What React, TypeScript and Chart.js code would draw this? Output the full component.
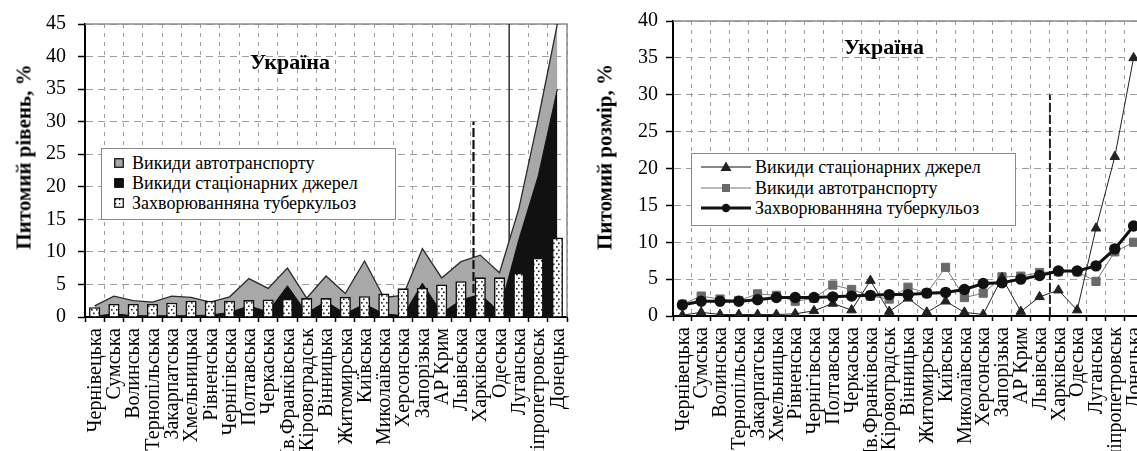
import React, { useEffect, useRef } from 'react';
import { Chart, registerables } from 'chart.js';

Chart.register(...registerables);

const SERIF = '"Liberation Serif", "Times New Roman", serif';

// ---- data ----
const regions = [
  'Чернівецька', 'Сумська', 'Волинська', 'Тернопільська', 'Закарпатська',
  'Хмельницька', 'Рівненська', 'Чернігівська', 'Полтавська', 'Черкаська',
  'Ів.Франківська', 'Кіровоградськ', 'Вінницька', 'Житомирська', 'Київська',
  'Миколаївська', 'Херсонська', 'Запорізька', 'АР Крим', 'Львівська',
  'Харківська', 'Одеська', 'Луганська', 'Дніпропетровськ', 'Донецька',
];
const stationary = [0.1, 0.5, 0.2, 0.2, 0.2, 0.2, 0.3, 0.7, 1.7, 0.8, 4.8, 0.6, 2.4, 0.5, 2.0, 0.5, 0.2, 5.2, 0.6, 2.6, 3.5, 0.8, 11.9, 21.6, 35.0];
const transport = [1.6, 2.7, 2.3, 2.1, 3.0, 2.8, 2.0, 2.4, 4.2, 3.6, 2.7, 2.3, 3.9, 3.1, 6.6, 2.5, 3.1, 5.3, 5.4, 5.9, 6.0, 6.0, 4.7, 8.7, 10.0];
const tuberculosis = [1.5, 2.0, 2.0, 2.0, 2.2, 2.5, 2.5, 2.5, 2.6, 2.7, 2.8, 2.9, 2.9, 3.1, 3.2, 3.6, 4.4, 4.5, 5.0, 5.5, 6.1, 6.1, 6.8, 9.1, 12.2];

const leftMax = 45;
const rightMax = 40;
const tickStep = 5;
const leftDividerIndex = 21.5;
const leftMarkerIndex = 19.65;
const rightMarkerIndex = 19.55;
const markerTop = 30;

const seriesNames = {
  transport: 'Викиди автотранспорту',
  stationary: 'Викиди стаціонарних джерел',
  tb: 'Захворюванняна туберкульоз',
};

function makeDotPattern(): CanvasPattern | string {
  const c = document.createElement('canvas');
  c.width = 5;
  c.height = 7;
  const g = c.getContext('2d');
  if (!g) return '#fff';
  g.fillStyle = '#fff';
  g.fillRect(0, 0, 5, 7);
  g.fillStyle = '#222';
  g.fillRect(1, 1, 1.6, 1.6);
  g.fillRect(3, 4.5, 1.6, 1.6);
  return g.createPattern(c, 'repeat') || '#fff';
}

const frameAndMarkers = {
  id: 'frameAndMarkers',
  beforeDatasetsDraw(chart: any, _a: any, opts: any) {
    const { ctx, chartArea: a, scales } = chart;
    const x = scales.x;
    const y = scales.y;
    const step = x.getPixelForValue(1) - x.getPixelForValue(0);
    const px = (v: number) => x.getPixelForValue(0) + v * step;
    ctx.save();
    ctx.strokeStyle = '#8c8c8c';
    ctx.lineWidth = 1.5;
    ctx.beginPath();
    ctx.moveTo(a.left, a.top);
    ctx.lineTo(a.right, a.top);
    ctx.lineTo(a.right, a.bottom);
    ctx.stroke();
    if (opts.solidAt != null) {
      ctx.strokeStyle = '#333';
      ctx.lineWidth = 1.5;
      ctx.beginPath();
      ctx.moveTo(px(opts.solidAt), y.getPixelForValue(0));
      ctx.lineTo(px(opts.solidAt), y.getPixelForValue(opts.solidTop));
      ctx.stroke();
    }
    if (opts.dashedAt != null && !opts.dashedOnTop) {
      ctx.strokeStyle = '#222';
      ctx.lineWidth = 2;
      ctx.setLineDash([9, 3]);
      ctx.beginPath();
      ctx.moveTo(px(opts.dashedAt), y.getPixelForValue(0));
      ctx.lineTo(px(opts.dashedAt), y.getPixelForValue(opts.dashedTop));
      ctx.stroke();
    }
    ctx.restore();
  },
  afterDatasetsDraw(chart: any, _a: any, opts: any) {
    const { ctx, scales } = chart;
    const x = scales.x;
    const y = scales.y;
    if (opts.dashedAt != null && opts.dashedOnTop) {
      const step = x.getPixelForValue(1) - x.getPixelForValue(0);
      const xx = x.getPixelForValue(0) + opts.dashedAt * step;
      ctx.save();
      ctx.strokeStyle = '#111';
      ctx.lineWidth = 2.2;
      ctx.setLineDash([9, 3]);
      ctx.beginPath();
      ctx.moveTo(xx, y.getPixelForValue(0));
      ctx.lineTo(xx, y.getPixelForValue(opts.dashedTop));
      ctx.stroke();
      ctx.restore();
    }
  },
  afterDraw(chart: any) {
    // category labels, rotated to read bottom-to-top, ending just under the axis
    const { ctx, scales } = chart;
    const x = scales.x;
    const labels: string[] = chart.data.labels;
    ctx.save();
    ctx.fillStyle = '#000';
    ctx.font = `20px ${SERIF}`;
    ctx.textAlign = 'right';
    ctx.textBaseline = 'middle';
    labels.forEach((lab, i) => {
      ctx.save();
      ctx.translate(x.getPixelForValue(i) + 1, x.top + 11);
      ctx.rotate(-Math.PI / 2);
      ctx.fillText(lab, 0, 0);
      ctx.restore();
    });
    ctx.restore();
  },
};

function xScale(height: number) {
  return {
    offset: true,
    grid: {
      offset: true,
      color: '#9e9e9e',
      lineWidth: 1,
      drawTicks: true,
      tickLength: 5,
      tickColor: '#000',
      tickWidth: 1.5,
      tickBorderDash: [],
    },
    border: { display: true, color: '#000', width: 2, dash: [4, 5] },
    ticks: { display: false, autoSkip: false },
    afterFit: (s: any) => {
      s.height = height;
    },
  };
}

function yScale(max: number, width: number, padding: number, stacked: boolean) {
  return {
    stacked,
    min: 0,
    max,
    ticks: { stepSize: tickStep, padding, color: '#000', font: { family: SERIF, size: 20 } },
    grid: {
      color: '#9e9e9e',
      lineWidth: 1,
      tickLength: 7,
      tickColor: '#000',
      tickWidth: 1.5,
      tickBorderDash: [],
    },
    border: { display: true, color: '#000', width: 2, dash: [7, 5] },
    afterFit: (s: any) => {
      s.width = width;
    },
  };
}

const box = (fill: string) => (
  <svg width={10} height={10} style={{ display: 'block' }}>
    <rect x={0.75} y={0.75} width={8.5} height={8.5} fill={fill} stroke="#000" strokeWidth={1.2} />
  </svg>
);

const dotBox = (
  <svg width={10} height={10} style={{ display: 'block' }}>
    <defs>
      <pattern id="lgdots" width={4} height={4} patternUnits="userSpaceOnUse">
        <rect width={4} height={4} fill="#fff" />
        <rect x={1} y={1} width={1.3} height={1.3} fill="#000" />
      </pattern>
    </defs>
    <rect x={0.75} y={0.75} width={8.5} height={8.5} fill="url(#lgdots)" stroke="#000" strokeWidth={1.2} />
  </svg>
);

function lineSample(kind: 'tri' | 'sq' | 'circ') {
  const stroke = kind === 'sq' ? '#777' : '#111';
  const w = kind === 'circ' ? 3 : 1;
  return (
    <svg width={52} height={16} style={{ display: 'block' }}>
      <line x1={0} y1={8} x2={50} y2={8} stroke={stroke} strokeWidth={w} />
      {kind === 'tri' && <polygon points="25,2.5 30.5,12 19.5,12" fill="#222" />}
      {kind === 'sq' && <rect x={21} y={4} width={8} height={8} fill="#6a6a6a" />}
      {kind === 'circ' && <circle cx={25} cy={8} r={4.2} fill="#111" />}
    </svg>
  );
}

const textStyle: React.CSSProperties = {
  position: 'absolute',
  fontFamily: SERIF,
  fontSize: 18,
  lineHeight: '20px',
  whiteSpace: 'nowrap',
  color: '#000',
};

export default function App() {
  const leftRef = useRef<HTMLCanvasElement>(null);
  const rightRef = useRef<HTMLCanvasElement>(null);

  useEffect(() => {
    if (!leftRef.current || !rightRef.current) return;
    const pattern = makeDotPattern();

    const left = new Chart(leftRef.current, {
      type: 'bar',
      data: {
        labels: regions,
        datasets: [
          {
            type: 'line',
            label: seriesNames.stationary,
            data: stationary,
            borderColor: '#111',
            backgroundColor: '#111',
            borderWidth: 1,
            fill: 'origin',
            pointRadius: 0,
            tension: 0,
            order: 2,
          } as any,
          {
            type: 'line',
            label: seriesNames.transport,
            data: transport,
            borderColor: '#2a2a2a',
            backgroundColor: '#a8a8a8',
            borderWidth: 1.3,
            fill: '-1',
            pointRadius: 0,
            tension: 0,
            order: 3,
          } as any,
          {
            type: 'bar',
            label: seriesNames.tb,
            data: tuberculosis,
            backgroundColor: pattern as any,
            borderColor: '#111',
            borderWidth: 1.6,
            barPercentage: 0.58,
            categoryPercentage: 1,
            stack: 'tb',
            order: 1,
          } as any,
        ],
      },
      options: {
        responsive: false,
        animation: false,
        layout: { padding: { left: 0, right: 13, top: 23, bottom: 0 } },
        plugins: {
          legend: { display: false },
          tooltip: { enabled: false },
          frameAndMarkers: {
            solidAt: leftDividerIndex,
            solidTop: leftMax,
            dashedAt: leftMarkerIndex,
            dashedTop: markerTop,
            dashedOnTop: true,
          },
        } as any,
        scales: {
          x: xScale(134) as any,
          y: yScale(leftMax, 85, 12, true) as any,
        },
      },
      plugins: [frameAndMarkers as any],
    });

    const right = new Chart(rightRef.current, {
      type: 'line',
      data: {
        labels: regions,
        datasets: [
          {
            label: seriesNames.stationary,
            data: stationary,
            borderColor: '#222',
            borderWidth: 1,
            pointStyle: 'triangle',
            pointRadius: 5.5,
            pointBackgroundColor: '#222',
            pointBorderColor: '#222',
            tension: 0,
            order: 2,
          },
          {
            label: seriesNames.transport,
            data: transport,
            borderColor: '#7a7a7a',
            borderWidth: 1,
            pointStyle: 'rect',
            pointRadius: 5.8,
            pointBackgroundColor: '#6a6a6a',
            pointBorderColor: '#6a6a6a',
            tension: 0,
            order: 3,
          },
          {
            label: seriesNames.tb,
            data: tuberculosis,
            borderColor: '#111',
            borderWidth: 3,
            pointStyle: 'circle',
            pointRadius: 4.2,
            pointBackgroundColor: '#111',
            pointBorderColor: '#111',
            tension: 0,
            order: 1,
          },
        ],
      },
      options: {
        responsive: false,
        animation: false,
        layout: { padding: { left: 0, right: 12, top: 21, bottom: 0 } },
        plugins: {
          legend: { display: false },
          tooltip: { enabled: false },
          frameAndMarkers: {
            dashedAt: rightMarkerIndex,
            dashedTop: markerTop,
            dashedOnTop: false,
          },
        } as any,
        scales: {
          x: xScale(135) as any,
          y: yScale(rightMax, 93, 8, false) as any,
        },
      },
      plugins: [frameAndMarkers as any],
    });

    return () => {
      left.destroy();
      right.destroy();
    };
  }, []);

  const yTitle = (text: string, cx: number, cy: number) => (
    <div
      style={{
        position: 'absolute',
        left: cx,
        top: cy,
        transform: 'translate(-50%, -50%) rotate(-90deg)',
        fontFamily: SERIF,
        fontWeight: 'bold',
        fontSize: 21,
        whiteSpace: 'nowrap',
        color: '#000',
      }}
    >
      {text}
    </div>
  );

  const plotTitle = (cx: number, cy: number) => (
    <div
      style={{
        position: 'absolute',
        left: cx,
        top: cy,
        transform: 'translate(-50%, -50%)',
        fontFamily: SERIF,
        fontWeight: 'bold',
        fontSize: 22,
        whiteSpace: 'nowrap',
        color: '#000',
      }}
    >
      Україна
    </div>
  );

  const leftRows: [React.ReactNode, string][] = [
    [box('#a8a8a8'), seriesNames.transport],
    [box('#111'), seriesNames.stationary],
    [dotBox, seriesNames.tb],
  ];
  const rightRows: [React.ReactNode, string][] = [
    [lineSample('tri'), seriesNames.stationary],
    [lineSample('sq'), seriesNames.transport],
    [lineSample('circ'), seriesNames.tb],
  ];

  return (
    <div
      style={{
        position: 'absolute',
        left: 0,
        top: 0,
        width: 1137,
        height: 451,
        overflow: 'hidden',
        background: '#fff',
      }}
    >
      <canvas ref={leftRef} width={580} height={451} style={{ position: 'absolute', left: 0, top: 0 }} />
      <canvas ref={rightRef} width={575} height={451} style={{ position: 'absolute', left: 580, top: 0 }} />

      {yTitle('Питомий рівень, %', 24, 157)}
      {yTitle('Питомий розмір, %', 605, 157)}
      {plotTitle(290, 62)}
      {plotTitle(884, 47)}

      <div
        style={{
          position: 'absolute',
          left: 101,
          top: 148,
          width: 295,
          height: 72,
          boxSizing: 'border-box',
          border: '1.5px solid #8a8a8a',
          background: '#fff',
        }}
      >
        {leftRows.map(([m, t], i) => (
          <React.Fragment key={t}>
            <div style={{ position: 'absolute', left: 12, top: 9 + i * 20 }}>{m}</div>
            <div style={{ ...textStyle, left: 30, top: 4 + i * 20 }}>{t}</div>
          </React.Fragment>
        ))}
      </div>

      <div
        style={{
          position: 'absolute',
          left: 691,
          top: 153,
          width: 325,
          height: 73,
          boxSizing: 'border-box',
          border: '1.5px solid #8a8a8a',
          background: '#fff',
        }}
      >
        {rightRows.map(([m, t], i) => (
          <React.Fragment key={t}>
            <div style={{ position: 'absolute', left: 9, top: 5 + i * 20.5 }}>{m}</div>
            <div style={{ ...textStyle, left: 63, top: 3 + i * 20.5 }}>{t}</div>
          </React.Fragment>
        ))}
      </div>
    </div>
  );
}
